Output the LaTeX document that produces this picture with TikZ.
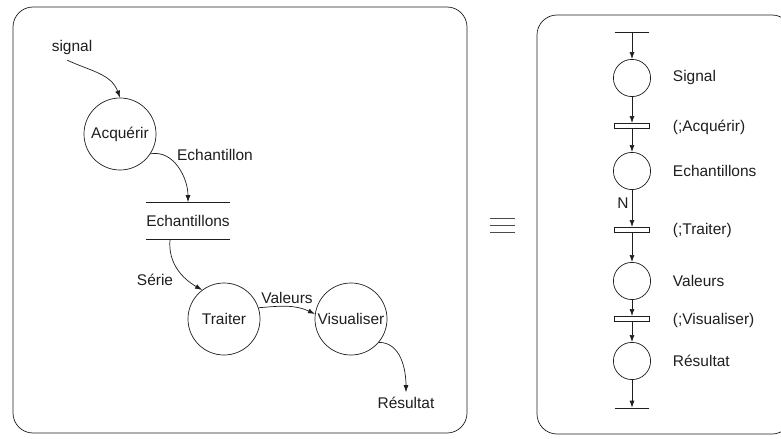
\documentclass[tikz,border=0pt]{standalone}
\usepackage{fontspec}
\setmainfont{Liberation Sans}
\usetikzlibrary{arrows.meta}
\definecolor{ink}{RGB}{30,30,30}

\begin{document}
\begin{tikzpicture}[x=0.025cm, y=0.025cm,
  every node/.style={font=\fontsize{11}{13}\selectfont, text=ink},
  flow/.style={ink, line width=0.5pt, -{Latex[length=5pt,width=3.5pt]}},
  proc/.style={circle, draw=ink, line width=0.5pt, minimum size=1.8cm, inner sep=0pt},
  store/.style={minimum width=2.075cm, minimum height=0.925cm, inner sep=0pt},
  place/.style={circle, draw=ink, line width=0.5pt, minimum size=0.93cm, inner sep=0pt},
  trans/.style={rectangle, draw=ink, line width=0.5pt, minimum width=0.875cm, minimum height=0.13cm, inner sep=0pt},
  bar/.style={minimum width=0.85cm, minimum height=0pt, inner sep=0pt},
  frame/.style={draw=ink, line width=0.5pt, rounded corners=0.5cm},
  lbl/.style={anchor=west}
]

% ── Canvas (pixel-like units, y downwards as negative) ───────────────
\useasboundingbox (0,0) rectangle (781,-439);
\clip (0,0) rectangle (781,-439);

% ── Frames ───────────────────────────────────────────────────────────
\draw[frame] (13,-7) rectangle (467,-433);
\draw[frame] (537,-15) rectangle (792,-434);

% ── Left: data flow diagram ──────────────────────────────────────────
\node (signal) at (72,-48) {signal};
\node[proc] (acq) at (120,-134) {Acquérir};
\node (lech) at (215,-155) {Echantillon};
\node[store] (store) at (188,-221) {Echantillons};
\draw[ink, line width=0.5pt] (store.north west) -- (store.north east);
\draw[ink, line width=0.5pt] (store.south west) -- (store.south east);
\node (serie) at (155,-280) {Série};
\node[proc] (traiter) at (224,-319) {Traiter};
\node (lval) at (287,-298) {Valeurs};
\node[proc] (vis) at (351,-319) {Visualiser};
\node (result) at (406,-403) {Résultat};

% flows
\draw[flow] ([xshift=-0.12cm]signal.south) to[out=-25, in=110] (acq.north);
\draw[flow] (acq.-33) to[out=10, in=90] (store.north);
\draw[flow] ([xshift=-0.45cm]store.south) to[out=-95, in=150] (traiter.127);
\draw[flow] (traiter.18) to[out=5, in=155] (vis.172);
\draw[flow] (vis.-40) to[out=0, in=90] (result.north);

% ── Equivalence sign ─────────────────────────────────────────────────
\foreach \y in {218,225,232} {
  \draw[ink!80, line width=0.4pt] (490,-\y) -- (515,-\y);
}

% ── Right: Petri net ─────────────────────────────────────────────────
\node[bar] (top) at (632,-32) {};
\node[place] (psig) at (632,-78) {};
\node[trans] (tacq) at (632,-126) {};
\node[place] (pech) at (632,-171) {};
\node[trans] (ttr) at (632,-230) {};
\node[place] (pval) at (632,-281) {};
\node[trans] (tvis) at (632,-319) {};
\node[place] (pres) at (632,-361) {};
\node[bar] (bot) at (632,-408) {};
\draw[ink, line width=0.5pt] (top.west) -- (top.east);
\draw[ink, line width=0.5pt] (bot.west) -- (bot.east);

% arcs
\draw[flow] (top) -- (psig);
\draw[flow] (psig) -- (tacq);
\draw[flow] (tacq) -- (pech);
\draw[flow] (pech) -- (ttr);
\draw[flow] (ttr) -- (pval);
\draw[flow] (pval) -- (tvis);
\draw[flow] (tvis) -- (pres);
\draw[flow] (pres) -- (bot);
\node (mult) at (623,-203) {N};

% labels
\node[lbl] (lsig) at (668,-78) {Signal};
\node[lbl] (lacq) at (668,-127) {(;Acquérir)};
\node[lbl] (lpech) at (668,-171) {Echantillons};
\node[lbl] (ltr) at (668,-230) {(;Traiter)};
\node[lbl] (lpval) at (668,-281) {Valeurs};
\node[lbl] (lvis) at (668,-320) {(;Visualiser)};
\node[lbl] (lres) at (668,-361) {Résultat};

\end{tikzpicture}
\end{document}
